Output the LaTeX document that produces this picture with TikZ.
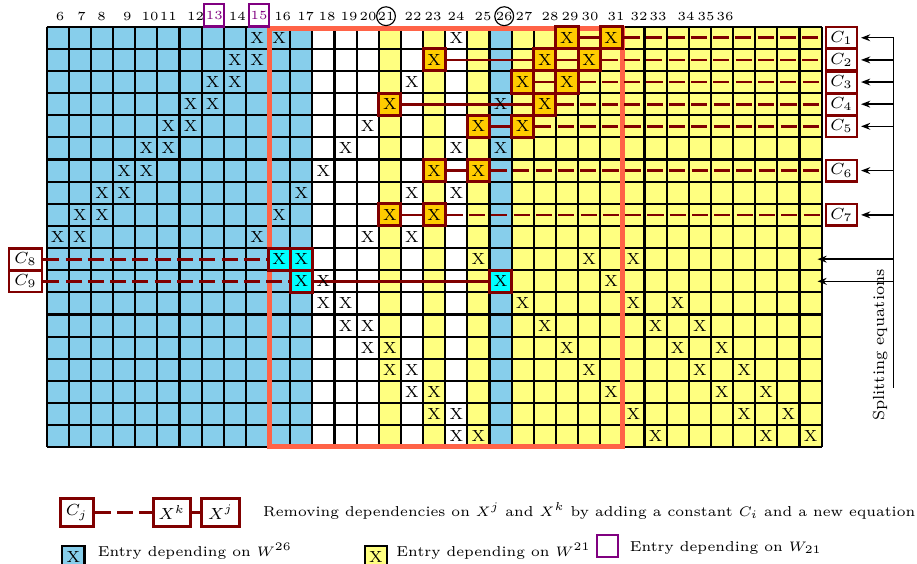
\documentclass[tikz,border=0pt]{standalone}
\usetikzlibrary{arrows.meta,calc}
\pgfdeclarelayer{bg}
\pgfdeclarelayer{mid}
\pgfsetlayers{bg,mid,main}
\definecolor{cellblue}{RGB}{135,206,235}
\definecolor{cellyellow}{RGB}{255,255,128}
\definecolor{boxgold}{RGB}{255,204,0}
\definecolor{maroonc}{RGB}{128,0,0}
\definecolor{rectorange}{RGB}{255,99,71}
\definecolor{purplec}{RGB}{128,0,128}
\definecolor{cyanc}{RGB}{0,255,255}
\tikzset{
  xmark/.style={inner sep=0pt, font=\fontsize{7}{8}\selectfont},
  depbox/.style={draw=maroonc, line width=1.3pt, fill=boxgold, minimum size=9.63pt, inner sep=0pt, font=\fontsize{7}{8}\selectfont},
  cyanbox/.style={depbox, fill=cyanc},
  cbox/.style={draw=maroonc, line width=1.1pt, fill=white, minimum width=13.5pt, minimum height=9.35pt, inner sep=0pt, font=\fontsize{7}{8}\selectfont},
  legbox/.style={draw=maroonc, line width=1.3pt, fill=white, minimum height=12.3pt, inner sep=0pt, font=\fontsize{7}{8}\selectfont},
  link/.style={draw=maroonc, line width=1.2pt},
  dlink/.style={link, dash pattern=on 7pt off 2.7pt},
  arr/.style={-{Stealth[length=4pt,width=3pt]}, line width=0.6pt},
  gridline/.style={black, line width=0.95pt},
  collabel/.style={font=\fontsize{5.4}{6}\selectfont, inner sep=0pt},
  legtext/.style={font=\fontsize{6.25}{7.5}\selectfont, inner sep=0pt, anchor=base west},
  legcell/.style={draw=black, line width=1pt, minimum size=9.63pt, inner sep=0pt, font=\fontsize{7}{8}\selectfont},
}
\begin{document}
\begin{tikzpicture}[x=0.435pt,y=-0.435pt]
\useasboundingbox (0,0) rectangle (917,564);
\clip (0,0) rectangle (917,564);

% ---------- grid ----------
\begin{pgfonlayer}{bg}
\fill[cellblue] (46.7,26.7) rectangle ({46.7+22.14*12},447.36);
\fill[cellblue] ({46.7+22.14*20},26.7) rectangle ({46.7+22.14*21},447.36);
\foreach \c in {15,17,19} \fill[cellyellow] ({46.7+22.14*\c},26.7) rectangle ({46.7+22.14*(\c+1)},447.36);
\fill[cellyellow] ({46.7+22.14*21},26.7) rectangle ({46.7+22.14*35},447.36);
\foreach \i in {0,...,35} \draw[gridline] ({46.7+22.14*\i},26.7) -- ({46.7+22.14*\i},447.36);
\foreach \j in {0,...,19} \draw[gridline] (46.7,{26.7+22.14*\j}) -- (821.6,{26.7+22.14*\j});
\draw[rectorange, line width=2.2pt] (269.2,28.3) rectangle (622.6,446.6);
\end{pgfonlayer}

% ---------- column labels ----------
\foreach \n/\px in {6/60,7/81.7,8/101.7,9/127.3,10/150,11/168.3,12/195.5,14/237.3,16/282.7,17/305.7,18/327,19/349,20/368,22/413,23/433,24/456,25/483,27/524,28/550,29/570,30/590,31/616,32/639,33/658,34/686,35/706,36/725}
  \node[collabel] (lab\n) at (\px,16.7) {\n};
\node[collabel, draw=purplec, text=purplec, line width=0.9pt, minimum width=8.7pt, minimum height=9.6pt] (lab13) at (214.3,15.5) {13};
\node[collabel, draw=purplec, text=purplec, line width=0.9pt, minimum width=8.7pt, minimum height=9.6pt] (lab15) at (259,15.5) {15};
\node[collabel, draw, circle, line width=0.5pt, minimum size=7.6pt] (lab21) at (386,16.2) {21};
\node[collabel, draw, circle, line width=0.5pt, minimum size=7.6pt] (lab26) at (504.2,16.2) {26};

% ---------- plain entries ----------
\foreach \r/\list in {0/{15,16,24},1/{14,15},2/{13,14,22},3/{12,13,26},4/{11,12,20},5/{10,11,19,24,26},6/{9,10,18},7/{8,9,17,22,24},8/{7,8,16},9/{6,7,15,20,22},10/{25,30,32},11/{18,31},12/{18,19,27,32,34},13/{19,20,28,33,35},14/{20,21,29,34,36},15/{21,22,30,35,37},16/{22,23,31,36,38},17/{23,24,32,37,39},18/{24,25,33,38,40}}{
  \foreach \n in \list {
    \node[xmark] (x-\r-\n) at ({46.7+22.14*(\n-5.5)},{26.7+22.14*(\r+0.5)}) {X};
  }
}

% ---------- boxed entries ----------
\foreach \r/\n in {0/29,0/31,1/23,1/28,1/30,2/27,2/29,3/21,3/28,4/25,4/27,6/23,6/25,8/21,8/23}
  \node[depbox] (b-\r-\n) at ({46.7+22.14*(\n-5.5)},{26.7+22.14*(\r+0.5)}) {X};
\foreach \r/\n in {10/16,10/17,11/17,11/26}
  \node[cyanbox] (b-\r-\n) at ({46.7+22.14*(\n-5.5)},{26.7+22.14*(\r+0.5)}) {X};

% ---------- constants ----------
\foreach \i/\r in {1/0,2/1,3/2,4/3,5/4,6/6,7/8}
  \node[cbox] (C\i) at (841.5,{26.7+22.14*(\r+0.5)}) {$C_{\i}$};
\node[cbox, minimum width=14.3pt] (C8) at (25.5,{26.7+22.14*10.5}) {$C_8$};
\node[cbox, minimum width=14.3pt] (C9) at (25.5,{26.7+22.14*11.5}) {$C_9$};

% ---------- connectors ----------
\begin{pgfonlayer}{mid}
\draw[link] (b-0-29) -- (b-0-31);
\draw[dlink] (b-0-31) -- (C1);
\draw[link] (b-1-23) -- (b-1-28);
\draw[link] (b-1-28) -- (b-1-30);
\draw[dlink] (b-1-30) -- (C2);
\draw[link] (b-2-27) -- (b-2-29);
\draw[dlink] (b-2-29) -- (C3);
\draw[link] (b-3-21) -- (b-3-28);
\draw[dlink] (b-3-28) -- (C4);
\draw[link] (b-4-25) -- (b-4-27);
\draw[dlink] (b-4-27) -- (C5);
\draw[link] (b-6-23) -- (b-6-25);
\draw[dlink] (b-6-25) -- (C6);
\draw[link] (b-8-21) -- (b-8-23);
\draw[dlink] (b-8-23) -- (C7);
\draw[dlink] (C8) -- (b-10-16);
\draw[dlink] (C9) -- (b-11-17);
\draw[link] (b-11-17) -- (b-11-26);
\end{pgfonlayer}

% ---------- splitting equations ----------
\coordinate (vx) at (893.5,0);
\coordinate (vbot) at (893.5,388);
\coordinate (g10) at (817.5,{26.7+22.14*10.5});
\coordinate (g11) at (817.5,{26.7+22.14*11.5});
\draw[line width=0.6pt] (C1.east -| vx) -- (vbot);
\foreach \i in {1,...,7} \draw[arr, shorten >=1.2pt] (C\i.east -| vx) -- (C\i.east);
\draw[arr] (g10 -| vx) -- (g10);
\draw[arr] (g11 -| vx) -- (g11);
\node[rotate=90, inner sep=0pt, font=\fontsize{7}{8}\selectfont] (split) at (880,345) {Splitting equations};

% ---------- legend ----------
\node[legbox, minimum width=14.5pt] (lc) at (76.7,512.5) {$C_j$};
\node[legbox, minimum width=16pt] (lk) at (171.7,512.5) {$X^k$};
\node[legbox, minimum width=16.4pt] (lj) at (220.5,512.5) {$X^j$};
\draw[dlink] (lc) -- (lk);
\draw[link] (lk) -- (lj);
\node[legtext] (ltext) at (262.7,516) {Removing dependencies on $X^j$ and $X^k$ by adding a constant $C_i$ and a new equation};

\node[legcell, fill=cellblue] (lblue) at (73.4,557.2) {X};
\node[legtext] (tblue) at (97.3,556) {Entry depending on $W^{26}$};
\node[legcell, fill=cellyellow] (lyel) at (376,557.2) {X};
\node[legtext] (tyel) at (396,556) {Entry depending on $W^{21}$};
\node[draw=purplec, line width=1.2pt, minimum width=9.1pt, minimum height=9.6pt, inner sep=0pt] (lpur) at (607.5,546) {};
\node[legtext] (tpur) at (629.3,551) {Entry depending on $W_{21}$};
\end{tikzpicture}
\end{document}
